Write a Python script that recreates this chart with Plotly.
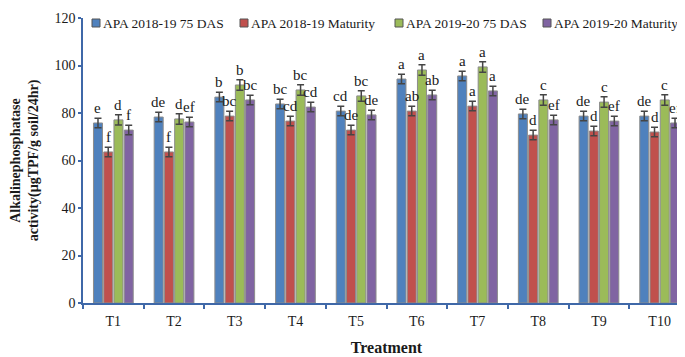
import plotly.graph_objects as go

categories = ["T1", "T2", "T3", "T4", "T5", "T6", "T7", "T8", "T9", "T10"]
series_names = ["APA 2018-19 75 DAS", "APA 2018-19 Maturity", "APA 2019-20 75 DAS", "APA 2019-20 Maturity"]
apa_1819_75das = [75.8, 78.3, 86.7, 83.8, 80.8, 94.3, 95.6, 79.6, 78.7, 78.7]
apa_1819_mat = [63.6, 63.6, 78.7, 76.6, 72.8, 80.8, 82.9, 70.7, 72.4, 72.0]
apa_1920_75das = [77.1, 77.5, 91.8, 89.7, 87.2, 98.1, 99.4, 85.5, 84.6, 85.5]
apa_1920_mat = [72.8, 76.2, 85.5, 82.5, 79.2, 87.6, 89.3, 77.1, 76.6, 75.8]
errors = [2.0, 2.0, 2.2, 2.0]
letters_1819_75das = ["e", "de", "b", "bc", "cd", "a", "a", "de", "de", "de"]
letters_1819_mat = ["f", "f", "bc", "cd", "de", "ab", "a", "d", "d", "d"]
letters_1920_75das = ["d", "d", "b", "bc", "bc", "a", "a", "c", "c", "c"]
letters_1920_mat = ["f", "ef", "bc", "cd", "de", "ab", "a", "ef", "ef", "ef"]

colors = ["#4F81BD", "#C0504D", "#9BBB59", "#8064A2"]
series = [apa_1819_75das, apa_1819_mat, apa_1920_75das, apa_1920_mat]
letters = [letters_1819_75das, letters_1819_mat, letters_1920_75das, letters_1920_mat]

FONT = "Liberation Serif, Times New Roman, Times, serif"
AX = "#3F68A8"
TXT = "#1a1a1a"
W, H = 685, 357
ML, MR, MT, MB = 75, 3, 10, 62
PW, PH = W - ML - MR, H - MT - MB
bargap = 0.325
slot = (1 - bargap) / 4

fig = go.Figure()
for k in range(4):
    fig.add_trace(go.Bar(
        x=categories, y=series[k], name=series_names[k], showlegend=False,
        marker=dict(color=colors[k], line=dict(color="#8c8c8c", width=1)),
        error_y=dict(type="constant", value=errors[k], color="#454545", thickness=1.5, width=3.5),
    ))

annotations = []
for k in range(4):
    for i in range(len(categories)):
        annotations.append(dict(
            x=i + (k - 1.5) * slot, y=series[k][i] + errors[k], xref="x", yref="y",
            text=letters[k][i], showarrow=False, yanchor="middle", yshift=10,
            font=dict(family=FONT, size=15, color=TXT),
        ))

# custom legend (squares + labels) laid out like the reference
legend_sq_px = [84, 232, 387, 535]
shapes = []
def px_to_paper_x(px):
    return (px - ML) / PW
def py_to_paper_y(py):
    return (H - MB - py) / PH
for k in range(4):
    x0 = legend_sq_px[k]
    shapes.append(dict(type="rect", xref="paper", yref="paper",
                       x0=px_to_paper_x(x0), x1=px_to_paper_x(x0 + 8),
                       y0=py_to_paper_y(19), y1=py_to_paper_y(11),
                       fillcolor=colors[k], line=dict(color="#555555", width=1)))
    annotations.append(dict(x=px_to_paper_x(x0 + 9), y=py_to_paper_y(15), xref="paper", yref="paper",
                            xanchor="left", yanchor="middle", showarrow=False,
                            text=series_names[k], font=dict(family=FONT, size=13.5, color=TXT)))

fig.update_layout(
    width=W, height=H,
    margin=dict(l=ML, r=MR, t=MT, b=MB),
    paper_bgcolor="white", plot_bgcolor="white",
    barmode="group", bargap=bargap, bargroupgap=0.12,
    font=dict(family=FONT, size=14, color=TXT),
    annotations=annotations, shapes=shapes,
    showlegend=False,
    xaxis=dict(
        automargin=False,
        showline=True, linecolor=AX, linewidth=1.5,
        ticks="outside", tickson="boundaries", ticklen=4, tickcolor=AX, tickwidth=1.5,
        ticklabelstandoff=4,
        tickfont=dict(family=FONT, size=14, color=TXT),
        title=dict(text="<b>Treatment</b>", font=dict(family=FONT, size=16, color=TXT), standoff=14),
    ),
    yaxis=dict(
        automargin=False,
        range=[0, 120], dtick=20, showgrid=False, zeroline=False,
        showline=True, linecolor=AX, linewidth=1.5,
        ticks="outside", ticklen=3, tickcolor=AX, tickwidth=1.5,
        tickfont=dict(family=FONT, size=14, color=TXT),
        title=dict(text="<b>Alkalinephosphatase<br>activity(µgTPF/g soil/24hr)</b>",
                   font=dict(family=FONT, size=14, color=TXT), standoff=16),
    ),
)

fig.write_html("out.html")
